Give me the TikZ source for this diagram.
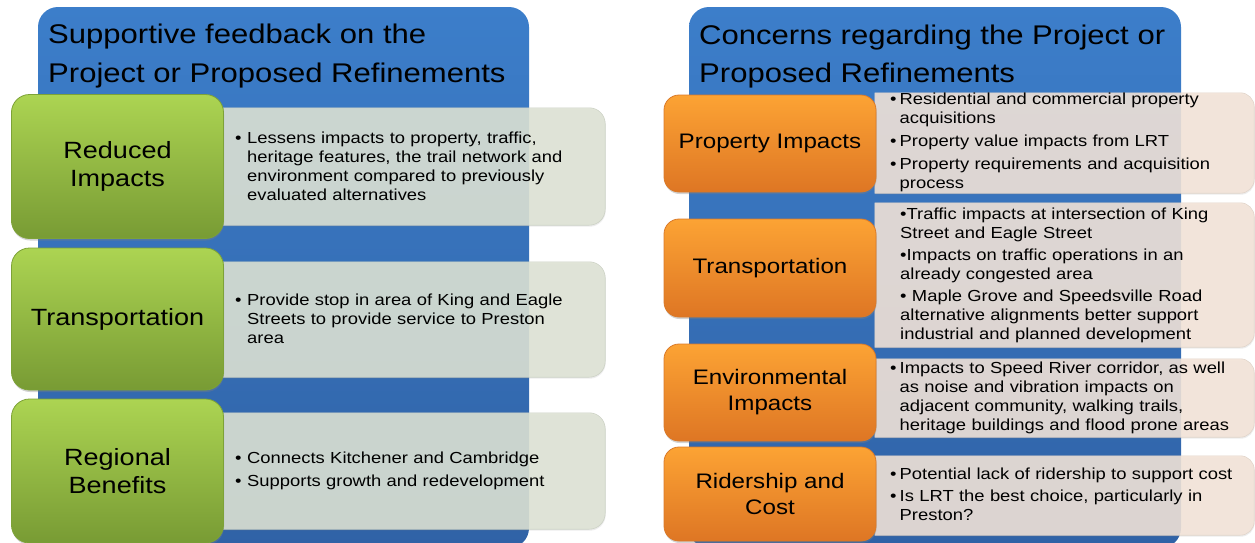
\documentclass[tikz,border=0pt]{standalone}
\usepackage{fontspec}
\setmainfont{Liberation Sans}[FakeStretch=1.15]
\usetikzlibrary{shadows}
\definecolor{bluetop}{RGB}{60,126,202}
\definecolor{bluebot}{RGB}{48,98,166}
\definecolor{greentop}{RGB}{172,212,82}
\definecolor{greenbot}{RGB}{120,155,52}
\definecolor{greenline}{RGB}{125,162,55}
\definecolor{grayfill}{RGB}{222,227,212}
\definecolor{grayline}{RGB}{205,210,198}
\definecolor{beigefill}{RGB}{243,228,216}
\definecolor{beigeline}{RGB}{225,212,202}
\definecolor{orangetop}{RGB}{252,163,52}
\definecolor{orangebot}{RGB}{222,118,36}
\definecolor{orangeline}{RGB}{218,122,42}
\newcommand{\bul}[2]{{\let\\\newline\hangindent=#1\hangafter=1\noindent\makebox[#1][l]{•}#2\par}}
\tikzset{
  panel/.style={rectangle, rounded corners=20pt, top color=bluetop, bottom color=bluebot, inner sep=0pt, draw=none},
  gbox/.style={rectangle, rounded corners=18pt, top color=greentop, bottom color=greenbot, draw=greenline, line width=0.8pt, inner sep=0pt, align=center, font=\fontsize{23.5}{28}\selectfont,
    drop shadow={opacity=0.35, shadow xshift=0.5pt, shadow yshift=-2pt}},
  obox/.style={rectangle, rounded corners=15pt, top color=orangetop, bottom color=orangebot, draw=orangeline, line width=0.8pt, inner sep=0pt, align=center, font=\fontsize{21}{26}\selectfont,
    drop shadow={opacity=0.35, shadow xshift=0.5pt, shadow yshift=-2pt}},
  area/.style={rectangle, inner sep=0pt, draw=none},
  tbox/.style={fill=grayfill, fill opacity=0.88, draw=grayline, line width=0.6pt,
    drop shadow={opacity=0.15, shadow xshift=0.5pt, shadow yshift=-1.5pt}},
  bbox/.style={fill=beigefill, fill opacity=0.88, draw=beigeline, line width=0.6pt,
    drop shadow={opacity=0.15, shadow xshift=0.5pt, shadow yshift=-1.5pt}},
  body/.style={anchor=west, inner sep=0pt, text width=370pt, align=left, font=\fontsize{16}{19}\selectfont},
  title/.style={anchor=base west, inner sep=0pt, font=\fontsize{27}{38}\selectfont},
}
\newcommand{\halfround}[3]{\path[#1] (#2.south west) -- (#2.north west) [rounded corners=#3] -- (#2.north east) -- (#2.south east) [sharp corners] -- (#2.south west) -- cycle;}
\begin{document}
\begin{tikzpicture}[x=1pt,y=-1pt]
\useasboundingbox (0,0) rectangle (1255,542);
% ---------- left panel ----------
\node[panel, minimum width=491pt, minimum height=541pt] (lpanel) at (283.5,277.5) {};
\node[title] (ltitle1) at (48,43) {Supportive feedback on the};
\node[title] (ltitle2) at (48,82) {Project or Proposed Refinements};

\node[area, minimum width=382pt, minimum height=117pt] (lt1) at (414,166.5) {};
\node[area, minimum width=382pt, minimum height=115pt] (lt2) at (414,319.5) {};
\node[area, minimum width=382pt, minimum height=116pt] (lt3) at (414,471) {};
\halfround{tbox}{lt1}{16pt}
\halfround{tbox}{lt2}{16pt}
\halfround{tbox}{lt3}{16pt}

\node[gbox, minimum width=212pt, minimum height=144pt] (lg1) at (117.5,166.5) {Reduced\\Impacts};
\node[gbox, minimum width=212pt, minimum height=142pt] (lg2) at (117.5,319) {Transportation};
\node[gbox, minimum width=212pt, minimum height=144pt] (lg3) at (117.5,471) {Regional\\Benefits};

\node[body] (lx1) at (235,166.5) {\bul{12pt}{Lessens impacts to property, traffic,\\heritage features, the trail network and\\environment compared to previously\\evaluated alternatives}};
\node[body] (lx2) at (235,319) {\bul{12pt}{Provide stop in area of King and Eagle\\Streets to provide service to Preston\\area}};
\node[body] (lx3) at (235,470.5) {\setlength{\parskip}{4pt}\bul{12pt}{Connects Kitchener and Cambridge}\bul{12pt}{Supports growth and redevelopment}};

% ---------- right panel ----------
\node[panel, minimum width=492pt, minimum height=541pt] (rpanel) at (935,277.5) {};
\node[title] (rtitle1) at (699,44) {Concerns regarding the Project or};
\node[title] (rtitle2) at (699,82) {Proposed Refinements};

\node[area, minimum width=379pt, minimum height=100pt] (rb1) at (1064.5,143) {};
\node[area, minimum width=379pt, minimum height=144pt] (rb2) at (1064.5,275) {};
\node[area, minimum width=379pt, minimum height=78pt] (rb3) at (1064.5,398) {};
\node[area, minimum width=379pt, minimum height=79pt] (rb4) at (1064.5,495.5) {};
\halfround{bbox}{rb1}{14pt}
\halfround{bbox}{rb2}{14pt}
\halfround{bbox}{rb3}{14pt}
\halfround{bbox}{rb4}{14pt}

\node[obox, minimum width=212pt, minimum height=97pt] (ro1) at (770,143.5) {Property Impacts};
\node[obox, minimum width=212pt, minimum height=98pt] (ro2) at (770,268) {Transportation};
\node[obox, minimum width=212pt, minimum height=97pt] (ro3) at (770,392.5) {Environmental\\Impacts};
\node[obox, minimum width=212pt, minimum height=94pt] (ro4) at (770,494) {Ridership and\\Cost};

\node[body] (rx1) at (890,142) {\setlength{\parskip}{4pt}\bul{9.5pt}{Residential and commercial property\\acquisitions}\bul{9.5pt}{Property value impacts from LRT}\bul{9.5pt}{Property requirements and acquisition\\process}};
\node[body] (rx2) at (900,275) {\setlength{\parskip}{3pt}\noindent•Traffic impacts at intersection of King\\Street and Eagle Street\par\noindent•Impacts on traffic operations in an\\already congested area\par\noindent• Maple Grove and Speedsville Road\\alternative alignments better support\\industrial and planned development\par};
\node[body] (rx3) at (890,397.5) {\bul{9.5pt}{Impacts to Speed River corridor, as well\\as noise and vibration impacts on\\adjacent community, walking trails,\\heritage buildings and flood prone areas}};
\node[body] (rx4) at (890,494.5) {\setlength{\parskip}{3pt}\bul{9.5pt}{Potential lack of ridership to support cost}\bul{9.5pt}{Is LRT the best choice, particularly in\\Preston?}};
\end{tikzpicture}
\end{document}
